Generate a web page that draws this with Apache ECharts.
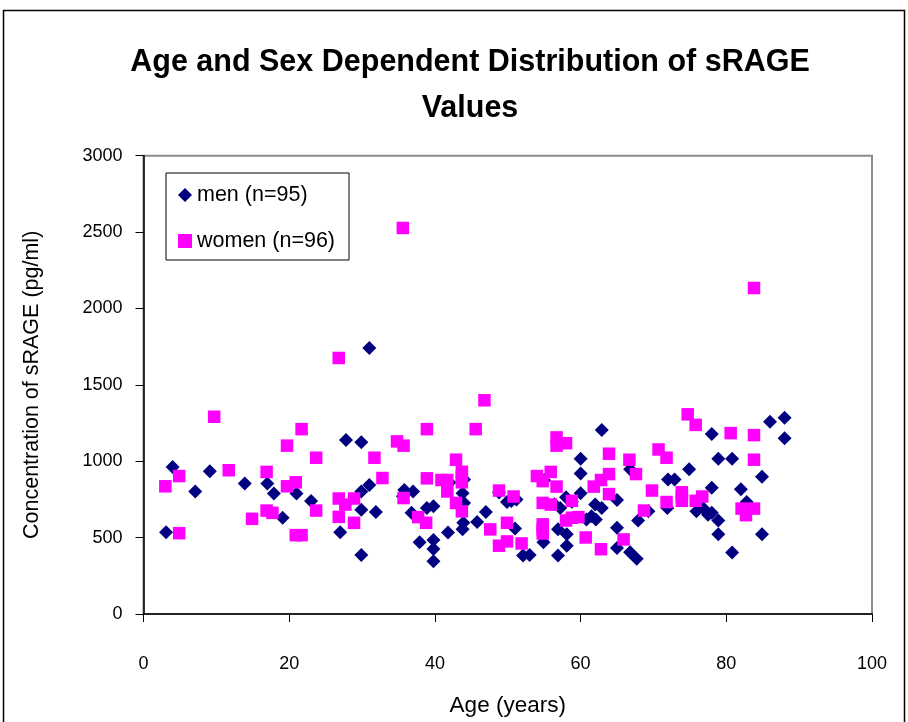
<!DOCTYPE html>
<html>
<head>
<meta charset="utf-8">
<script src="https://cdn.jsdelivr.net/npm/echarts@6/dist/echarts.min.js"></script>
<style>
html,body{margin:0;padding:0;background:#fff;}
#chart{width:908px;height:722px;}
</style>
</head>
<body>
<div id="chart"></div>
<script>
// Data: [age (years), sRAGE (pg/ml)]
const men = [
  [3.1,535],[4.0,963],[7.1,802],[9.1,935],[13.9,855],[17.0,855],[17.9,789],[19.1,630],
  [21.0,789],[23.0,739],[27.0,535],[27.8,1139],[29.9,1124],[29.9,802],[29.9,683],[29.9,387],
  [31.0,845],[31.0,1741],[31.9,668],[35.8,812],[36.8,662],[37.0,802],[37.9,469],[38.9,694],
  [39.8,705],[39.8,484],[39.8,425],[39.8,346],[41.8,533],[43.8,791],[44.0,727],[43.9,597],
  [43.8,554],[45.8,602],[47.0,668],[49.9,733],[50.5,740],[51.0,559],[52.1,383],[53.0,387],
  [54.9,469],[56.9,554],[56.9,383],[57.2,694],[58.0,765],[58.1,522],[58.1,447],[60.0,1017],
  [60.0,920],[60.0,791],[60.8,619],[62.0,716],[62.1,619],[62.9,1204],[62.9,694],[65.0,746],
  [65.0,565],[65.0,432],[66.8,948],[66.8,404],[67.9,612],[67.7,361],[69.3,672],[71.9,694],
  [72.0,881],[72.9,881],[74.9,948],[75.9,672],[76.8,694],[77.5,650],[78.0,662],[78.0,1178],
  [78.0,827],[78.9,1017],[78.9,612],[78.9,522],[80.8,1017],[80.8,402],[82.0,817],[82.8,733],
  [84.9,898],[84.9,522],[86.0,1259],[88.0,1285],[88.0,1150],
  [42.0,860],[51.2,750],[56.4,718],[61.5,640],[48.8,795],[35.6,770],[44.0,880],[82.3,695],
  [55.0,875],[58.8,735]
];
const women = [
  [3.0,836],[4.9,903],[4.9,529],[9.7,1291],[11.7,941],[14.9,623],[16.9,930],[16.9,677],
  [17.7,662],[19.7,1102],[19.7,836],[20.9,862],[20.9,516],[21.7,1210],[21.7,516],[23.7,1023],
  [23.7,677],[26.8,1676],[26.8,756],[26.8,636],[27.7,716],[28.9,756],[28.9,597],[31.7,1023],
  [32.8,890],[34.8,1130],[35.6,2527],[35.7,1102],[35.7,759],[37.7,634],[38.8,597],[38.9,1210],
  [38.9,888],[40.9,877],[41.7,877],[41.7,802],[42.9,1010],[42.9,727],[43.7,931],[43.7,862],
  [43.7,672],[45.6,1210],[46.8,1399],[47.6,554],[48.8,808],[48.8,447],[49.9,597],[49.9,475],
  [50.8,769],[51.9,462],[54.0,903],[54.8,870],[54.8,727],[54.8,587],[54.8,527],[55.9,930],
  [55.9,716],[56.7,1156],[56.7,1102],[56.7,834],[58.0,1118],[58.0,612],[58.8,741],[58.8,630],
  [59.7,634],[60.7,501],[61.8,834],[62.8,877],[62.8,424],[63.9,1049],[63.9,916],[63.9,785],
  [65.9,488],[66.7,1010],[67.6,916],[68.7,677],[69.8,808],[70.7,1077],[71.8,1023],[71.8,733],
  [73.9,797],[73.9,741],[74.7,1307],[75.8,1238],[75.8,741],[76.7,769],[80.6,1184],[82.1,690],
  [82.7,647],[83.8,2134],[83.8,1171],[83.8,1010],[83.8,690],[43.7,900],[54.8,557],[73.9,770]
];
const xTicks = {min:0, max:100, interval:20};
const yTicks = {min:0, max:3000, interval:500};
const titleLines = ['Age and Sex Dependent Distribution of sRAGE','Values'];
const seriesNames = ['men (n=95)','women (n=96)'];

const SANS = '"Liberation Sans",Arial,Helvetica,sans-serif';

const chart = echarts.init(document.getElementById('chart'), null, {renderer:'canvas'});
chart.setOption({
  backgroundColor:'#fff',
  animation:false,
  title:{
    text: titleLines.join('\n'),
    left: 465, top: 35, textAlign:'center',
    textStyle:{fontFamily:SANS, fontWeight:'bold', fontSize:30.5, lineHeight:46, color:'#000'}
  },
  grid:{left:143.5, right:36, top:155.7, bottom:101, show:true, borderColor:'#8c8c8c', borderWidth:2, backgroundColor:'#fff'},
  legend:{
    orient:'vertical', left:166, top:173,
    backgroundColor:'#fff', borderColor:'#000', borderWidth:1,
    padding:[11,14,8,12], itemGap:24, itemWidth:14, itemHeight:14, itemTextGap:10,
    textStyle:{fontFamily:SANS, fontSize:21.5, color:'#000'},
    data:[{name:seriesNames[0], icon:'diamond'},{name:seriesNames[1], icon:'rect'}]
  },
  xAxis:{
    type:'value', min:xTicks.min, max:xTicks.max, interval:xTicks.interval,
    name:'Age (years)', nameLocation:'middle', nameGap:80,
    nameTextStyle:{fontFamily:SANS, fontSize:22.5, color:'#000'},
    axisLine:{show:true, onZero:false, lineStyle:{color:'#000', width:1.5}},
    axisTick:{show:true, inside:false, length:8, lineStyle:{color:'#000'}},
    axisLabel:{fontFamily:SANS, fontSize:18, color:'#000', margin:41},
    splitLine:{show:false}
  },
  yAxis:{
    type:'value', min:yTicks.min, max:yTicks.max, interval:yTicks.interval,
    name:'Concentration of sRAGE (pg/ml)', nameLocation:'middle', nameGap:100,
    nameTextStyle:{fontFamily:SANS, fontSize:21.5, color:'#000'},
    axisLine:{show:true, onZero:false, lineStyle:{color:'#000', width:1.5}},
    axisTick:{show:true, inside:false, length:8, lineStyle:{color:'#000'}},
    axisLabel:{fontFamily:SANS, fontSize:18, color:'#000', margin:21, formatter:function(v){return String(v);}},
    splitLine:{show:false}
  },
  graphic:[{
    type:'rect', silent:true, z:-1,
    shape:{x:3.5, y:10.5, width:901, height:730},
    style:{fill:'none', stroke:'#000', lineWidth:1.5}
  }],
  series:[
    {name:seriesNames[0], type:'scatter', symbol:'diamond', symbolSize:14, data:men,
     itemStyle:{color:'#000080', opacity:1}},
    {name:seriesNames[1], type:'scatter', symbol:'rect', symbolSize:12.5, data:women,
     itemStyle:{color:'#ff00ff', opacity:1}}
  ]
});
</script>
</body>
</html>
